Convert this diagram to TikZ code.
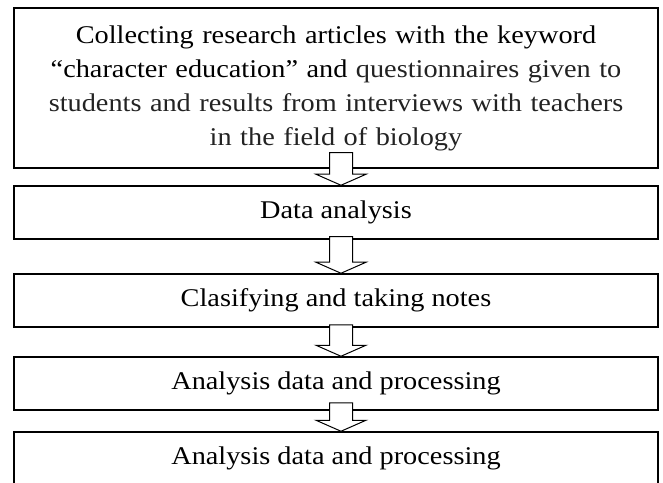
\documentclass[tikz,border=0pt]{standalone}
\usepackage{fontspec}
\setmainfont{Liberation Serif}[FakeStretch=1.11]
\usetikzlibrary{calc}
\definecolor{txtgray}{RGB}{35,35,35}
\tikzset{
  stagebox/.style={draw=black, line width=1.5pt, fill=white, inner sep=0pt,
    minimum width=644pt, align=center, font=\fontsize{25.5}{34}\selectfont},
  barrow/.style={draw=black, line width=1pt, fill=white, line join=miter}
}
\newcommand\blockarr[3]{%
  \draw[barrow] ($(#1.south)+(-6.5,#3)$) -- ($(#2.north)+(-6.5,11)$)
    -- ($(#2.north)+(-20,11)$) -- ($(#2.north)+(5,0)$)
    -- ($(#2.north)+(30,11)$) -- ($(#2.north)+(16.5,11)$)
    -- ($(#1.south)+(16.5,#3)$) -- cycle;}
\begin{document}
\begin{tikzpicture}[x=1pt,y=1pt]
\useasboundingbox (0,0) rectangle (663,482);
\node[stagebox, minimum height=160pt, text width=630pt] (b1) at (336,394)
  {Collecting research articles with the keyword\\
   “character education” and \textcolor{txtgray}{questionnaires given to}\\
   \textcolor{txtgray}{students and results from interviews with teachers}\\
   \textcolor{txtgray}{in the field of biology}};
\node[stagebox, minimum height=53pt] (b2) at (336,269.5) {Data analysis};
\node[stagebox, minimum height=53pt] (b3) at (336,181.5) {Clasifying and taking notes};
\node[stagebox, minimum height=53pt] (b4) at (336,98.5) {Analysis data and processing};
\node[stagebox, minimum height=53pt] (b5) at (336,23.5) {Analysis data and processing};
\blockarr{b1}{b2}{16}
\blockarr{b2}{b3}{3}
\blockarr{b3}{b4}{3}
\blockarr{b4}{b5}{8}
\end{tikzpicture}
\end{document}
